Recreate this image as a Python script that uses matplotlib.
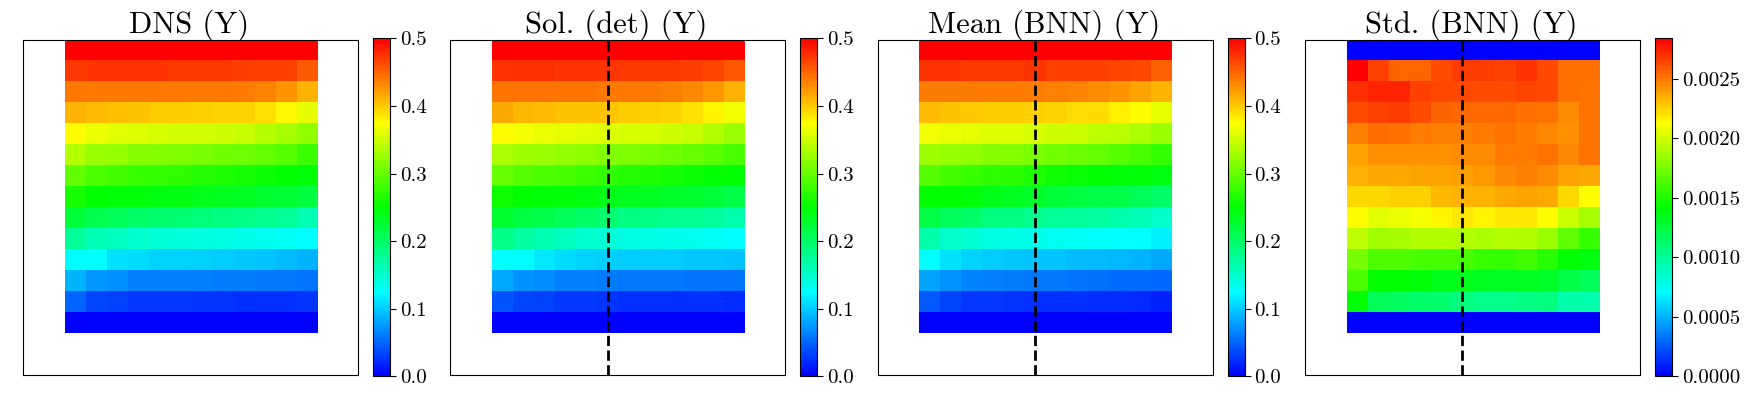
import numpy as np
import matplotlib
matplotlib.use("Agg")
import matplotlib.pyplot as plt
from matplotlib.colors import LinearSegmentedColormap

plt.rcParams['font.family'] = ['cmr10', 'DejaVu Serif']
plt.rcParams['axes.unicode_minus'] = False

titles = ['DNS (Y)', 'Sol. (det) (Y)', 'Mean (BNN) (Y)', 'Std. (BNN) (Y)']
field_ticks = [0.0, 0.1, 0.2, 0.3, 0.4, 0.5]
field_ticklabels = ['0.0', '0.1', '0.2', '0.3', '0.4', '0.5']
std_ticks = [0.0, 0.0005, 0.0010, 0.0015, 0.0020, 0.0025]
std_ticklabels = ['0.0000', '0.0005', '0.0010', '0.0015', '0.0020', '0.0025']
field_max = 0.5
std_max = 0.00284

# rows go from the top of the domain to the bottom
dns = [
    [.500, .500, .500, .500, .500, .500, .500, .500, .500, .500, .500, .500],
    [.472, .473, .473, .473, .473, .471, .471, .471, .470, .468, .467, .456],
    [.441, .441, .441, .441, .441, .441, .441, .440, .438, .434, .426, .411],
    [.412, .407, .405, .403, .400, .400, .398, .396, .396, .390, .378, .363],
    [.375, .365, .360, .358, .355, .353, .353, .350, .346, .338, .331, .321],
    [.336, .326, .324, .316, .314, .311, .309, .306, .304, .297, .292, .279],
    [.297, .287, .282, .277, .275, .272, .267, .265, .260, .255, .250, .245],
    [.260, .250, .247, .245, .243, .241, .238, .236, .234, .228, .225, .220],
    [.221, .211, .206, .201, .196, .194, .191, .186, .184, .181, .176, .164],
    [.176, .162, .157, .150, .146, .143, .141, .139, .136, .132, .130, .125],
    [.125, .125, .110, .108, .105, .104, .103, .100, .098, .096, .093, .088],
    [.088, .076, .071, .064, .064, .063, .063, .061, .061, .060, .059, .058],
    [.049, .034, .032, .029, .028, .028, .027, .027, .025, .025, .025, .027],
    [.000, .000, .000, .000, .000, .000, .000, .000, .000, .000, .000, .000],
]
sol_det = [
    [.500, .500, .500, .500, .500, .500, .500, .500, .500, .500, .500, .500],
    [.473, .475, .475, .474, .474, .473, .472, .472, .471, .470, .466, .456],
    [.443, .443, .443, .442, .442, .441, .441, .440, .437, .433, .425, .413],
    [.417, .409, .407, .404, .403, .403, .400, .398, .395, .390, .380, .368],
    [.375, .370, .365, .363, .360, .358, .355, .354, .350, .346, .336, .326],
    [.333, .328, .326, .321, .319, .314, .311, .308, .304, .299, .294, .284],
    [.299, .292, .287, .284, .279, .275, .267, .265, .260, .255, .251, .250],
    [.257, .250, .248, .245, .243, .240, .235, .233, .230, .228, .223, .216],
    [.228, .218, .213, .206, .201, .196, .186, .184, .181, .179, .174, .167],
    [.184, .172, .164, .157, .150, .145, .140, .138, .136, .133, .130, .125],
    [.125, .125, .115, .108, .105, .103, .100, .100, .100, .098, .098, .096],
    [.083, .074, .069, .064, .063, .061, .059, .059, .059, .058, .058, .058],
    [.042, .034, .032, .029, .028, .027, .025, .025, .025, .025, .025, .022],
    [.000, .000, .000, .000, .000, .000, .000, .000, .000, .000, .000, .000],
]
mean_bnn = [
    [.500, .500, .500, .500, .500, .500, .500, .500, .500, .500, .500, .500],
    [.473, .473, .472, .471, .471, .473, .468, .468, .468, .466, .463, .453],
    [.439, .439, .439, .439, .439, .439, .436, .434, .431, .426, .419, .412],
    [.407, .404, .402, .400, .400, .398, .395, .392, .391, .382, .375, .363],
    [.368, .365, .362, .359, .358, .354, .350, .348, .343, .341, .333, .326],
    [.328, .324, .321, .316, .314, .309, .306, .301, .297, .292, .284, .275],
    [.292, .282, .277, .272, .270, .265, .257, .252, .250, .248, .245, .243],
    [.250, .250, .245, .240, .235, .230, .223, .220, .216, .213, .208, .199],
    [.216, .206, .201, .189, .186, .181, .176, .174, .172, .167, .162, .152],
    [.167, .152, .147, .140, .138, .135, .132, .130, .128, .125, .125, .118],
    [.125, .113, .105, .100, .098, .096, .096, .093, .093, .091, .088, .083],
    [.081, .074, .066, .064, .061, .060, .059, .058, .056, .054, .053, .051],
    [.044, .034, .029, .028, .027, .025, .025, .024, .022, .022, .021, .017],
    [.000, .000, .000, .000, .000, .000, .000, .000, .000, .000, .000, .000],
]
std_bnn = [
    [.00000, .00000, .00000, .00000, .00000, .00000, .00000, .00000, .00000, .00000, .00000, .00000],
    [.00284, .00266, .00256, .00256, .00262, .00267, .00267, .00266, .00269, .00263, .00252, .00252],
    [.00270, .00274, .00273, .00266, .00263, .00263, .00262, .00262, .00265, .00263, .00252, .00251],
    [.00262, .00266, .00267, .00262, .00256, .00255, .00255, .00255, .00252, .00251, .00245, .00251],
    [.00248, .00253, .00252, .00249, .00248, .00248, .00249, .00251, .00249, .00246, .00244, .00251],
    [.00238, .00244, .00244, .00244, .00244, .00245, .00245, .00249, .00249, .00251, .00246, .00251],
    [.00235, .00237, .00237, .00238, .00238, .00239, .00241, .00246, .00248, .00245, .00238, .00237],
    [.00224, .00224, .00226, .00226, .00232, .00234, .00234, .00237, .00238, .00237, .00224, .00213],
    [.00213, .00205, .00207, .00210, .00216, .00219, .00216, .00219, .00219, .00213, .00198, .00188],
    [.00195, .00187, .00188, .00191, .00191, .00191, .00189, .00192, .00191, .00185, .00168, .00157],
    [.00175, .00164, .00164, .00161, .00161, .00161, .00157, .00156, .00160, .00152, .00142, .00138],
    [.00163, .00142, .00142, .00139, .00136, .00135, .00134, .00134, .00134, .00131, .00123, .00117],
    [.00142, .00118, .00116, .00113, .00111, .00107, .00104, .00104, .00106, .00107, .00095, .00095],
    [.00000, .00000, .00000, .00000, .00000, .00000, .00000, .00000, .00000, .00000, .00000, .00000],
]

W, H = 1760, 400
cmap = LinearSegmentedColormap.from_list('rainbow4', ['#0000ff', '#00ffff', '#00ff00', '#ffff00', '#ff0000'], N=256)


def px_axes(left, top, right, bottom):
    return fig.add_axes([left / W, 1 - bottom / H, (right - left) / W, (bottom - top) / H])


fig = plt.figure(figsize=(W / 100, H / 100), dpi=100)
fields = [dns, sol_det, mean_bnn, std_bnn]
for i, (field, title) in enumerate(zip(fields, titles)):
    x0 = 23.0 + 427.4 * i
    ax = px_axes(x0, 40.0, x0 + 335.0, 375.0)
    vmax = std_max if i == 3 else field_max
    im = ax.imshow(np.array(field)[::-1], origin='lower', cmap=cmap, vmin=0, vmax=vmax,
                   interpolation='nearest', aspect='auto')
    ax.set_xlim(-2.48, 13.47)
    ax.set_ylim(-2.5, 13.45)
    ax.set_xticks([])
    ax.set_yticks([])
    if i > 0:
        ax.plot([5, 5], [-2.5, 13.45], 'k--', lw=2)
    fig.text((x0 + 166) / W, 1 - 32.5 / H, title, fontsize=22, ha='center', va='baseline')

    cax = px_axes(x0 + 350, 38.4, x0 + 367, 376.4)
    cb = fig.colorbar(im, cax=cax)
    if i == 3:
        cb.set_ticks(std_ticks, labels=std_ticklabels)
    else:
        cb.set_ticks(field_ticks, labels=field_ticklabels)
    cb.ax.tick_params(labelsize=15, length=4, width=0.8, pad=3)
    cb.outline.set_linewidth(0.8)

fig.savefig('out.png', dpi=100)
